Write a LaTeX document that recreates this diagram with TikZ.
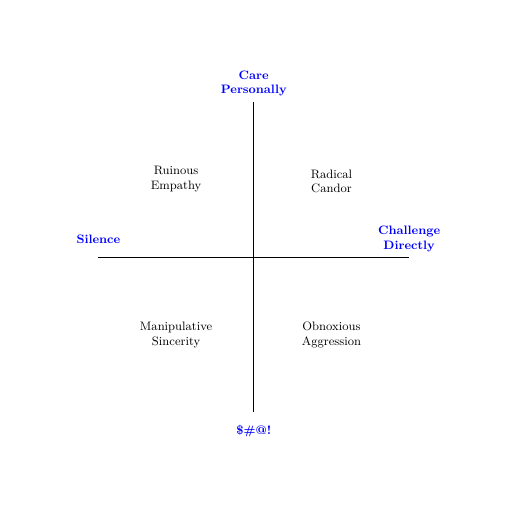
\documentclass[tikz,border=0pt]{standalone}
\usepackage{amsmath}
\usepackage{tikz}
\usetikzlibrary{positioning}

\tikzset{
	axislabel/.style={text=blue,font=\fontsize{9.4}{11.3}\selectfont\bfseries,align=center,inner sep=3pt},
	quadlabel/.style={font=\fontsize{9.4}{11.3}\selectfont,align=center}
}

\begin{document}
\begin{tikzpicture}
			
			\useasboundingbox (-6.86,-6.89) rectangle (6.97,6.95);
			
			\coordinate (west) at (-4.2,0);
			\coordinate (east) at (4.2,0);
			\coordinate (north) at (0,4.2);
			\coordinate (south) at (0,-4.2);
			
			\draw[thick](west)--(east);
			\draw[thick](north)--(south);
			
			\node[axislabel,above=1pt of north](care){Care\\Personally};
			\node[axislabel,above=1pt of east](challenge){Challenge\\Directly};
			\node[axislabel] (silence) at (west |- challenge){Silence};
			\node[axislabel,below=7pt of south](swear){\$\#@!};
			
			\node[quadlabel] (ruinous) at (-2.1,2.1){Ruinous\\Empathy};
			\node[quadlabel] (radical) at (2.1,2.05){Radical\\Candor};
			\node[quadlabel] (manipulative) at (-2.1,-2.1){Manipulative\\Sincerity};
			\node[quadlabel] (obnoxious) at (2.1,-2.1){Obnoxious\\Aggression};
			
		\end{tikzpicture}
\end{document}
